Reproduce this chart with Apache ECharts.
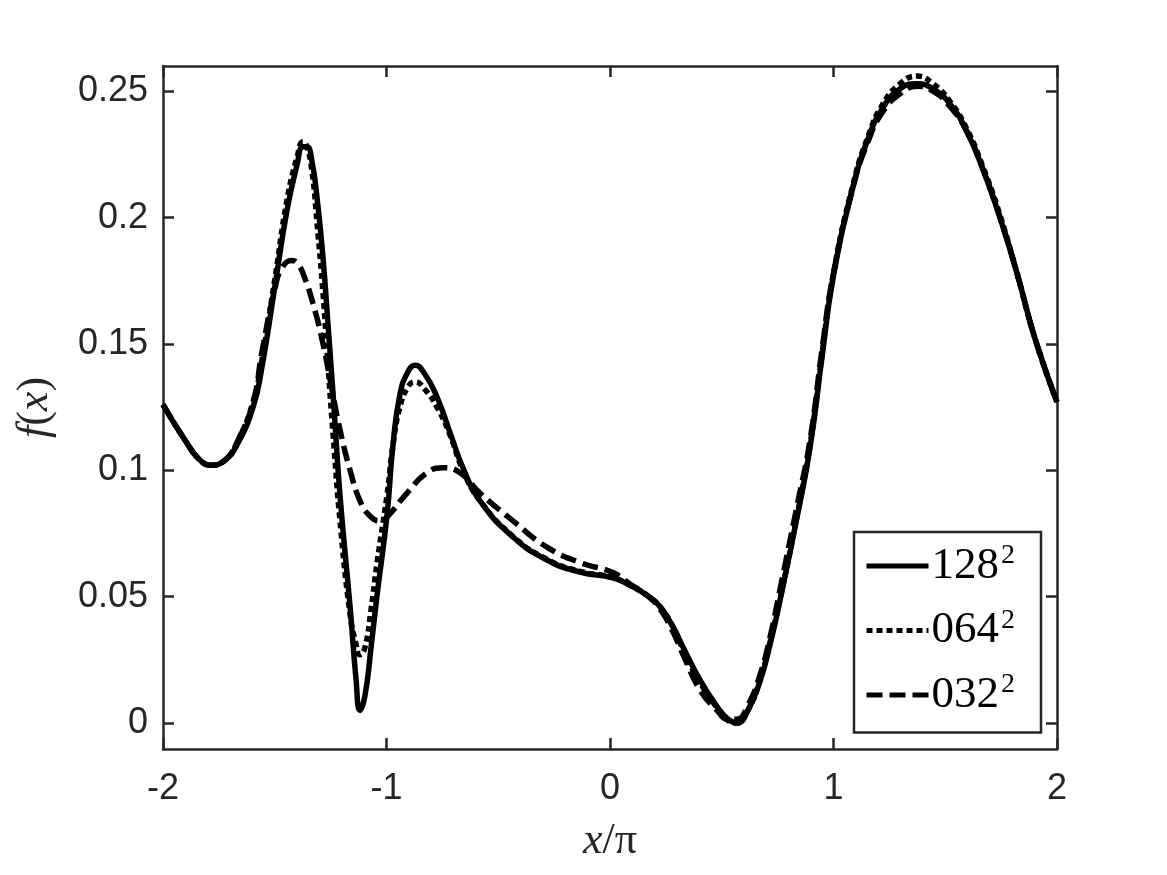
<!DOCTYPE html>
<html>
<head>
<meta charset="utf-8">
<script src="https://cdn.jsdelivr.net/npm/echarts@6/dist/echarts.min.js"></script>
<style>
  html, body { margin: 0; padding: 0; background: #fff; }
  #chart { width: 1167px; height: 875px; }
</style>
</head>
<body>
<div id="chart"></div>
<script>
// x / pi positions and f(x) values
const x128 = [-2.000, -1.902, -1.834, -1.781, -1.723, -1.669, -1.597, -1.557, -1.499, -1.445, -1.400, -1.374, -1.356, -1.333, -1.311, -1.284, -1.262, -1.239, -1.208, -1.163, -1.136, -1.119, -1.096, -1.069, -1.043, -0.998, -0.971, -0.940, -0.904, -0.872, -0.828, -0.774, -0.716, -0.658, -0.582, -0.434, -0.282, -0.134, 0.013, 0.089, 0.166, 0.224, 0.282, 0.327, 0.403, 0.479, 0.528, 0.568, 0.617, 0.671, 0.716, 0.761, 0.837, 0.895, 0.949, 0.998, 1.087, 1.154, 1.221, 1.298, 1.374, 1.445, 1.521, 1.597, 1.669, 1.745, 1.821, 1.902, 2.000]
const y128 = [0.126, 0.112, 0.104, 0.102, 0.104, 0.110, 0.125, 0.141, 0.173, 0.203, 0.221, 0.228, 0.228, 0.222, 0.208, 0.184, 0.158, 0.130, 0.090, 0.046, 0.017, 0.005, 0.011, 0.030, 0.050, 0.082, 0.110, 0.130, 0.139, 0.1416, 0.138, 0.129, 0.115, 0.101, 0.088, 0.0736, 0.0645, 0.0597, 0.0574, 0.0545, 0.0505, 0.046, 0.038, 0.030, 0.017, 0.0065, 0.0015, 0.000, 0.005, 0.0165, 0.031, 0.0487, 0.0815, 0.109, 0.145, 0.176, 0.212, 0.231, 0.2435, 0.251, 0.253, 0.251, 0.245, 0.234, 0.219, 0.200, 0.178, 0.152, 0.127]

const x064 = [-2.000, -1.902, -1.834, -1.781, -1.723, -1.669, -1.597, -1.557, -1.499, -1.445, -1.400, -1.374, -1.356, -1.333, -1.311, -1.284, -1.262, -1.239, -1.208, -1.163, -1.136, -1.119, -1.096, -1.069, -1.043, -0.998, -0.971, -0.940, -0.904, -0.872, -0.828, -0.774, -0.716, -0.658, -0.582, -0.434, -0.282, -0.134, 0.013, 0.089, 0.166, 0.224, 0.282, 0.327, 0.403, 0.479, 0.528, 0.568, 0.617, 0.671, 0.716, 0.761, 0.837, 0.895, 0.949, 0.998, 1.087, 1.154, 1.221, 1.298, 1.374, 1.445, 1.521, 1.597, 1.669, 1.745, 1.821, 1.902, 2.000]
const y064 = [0.126, 0.112, 0.104, 0.102, 0.104, 0.111, 0.127, 0.144, 0.176, 0.207, 0.224, 0.230, 0.228, 0.218, 0.198, 0.170, 0.142, 0.114, 0.080, 0.043, 0.031, 0.027, 0.030, 0.045, 0.063, 0.090, 0.110, 0.125, 0.133, 0.135, 0.132, 0.125, 0.114, 0.100, 0.088, 0.0738, 0.0648, 0.0600, 0.0576, 0.0545, 0.0505, 0.046, 0.038, 0.029, 0.016, 0.006, 0.001, 0.000, 0.005, 0.017, 0.032, 0.049, 0.082, 0.110, 0.146, 0.177, 0.213, 0.232, 0.245, 0.253, 0.256, 0.253, 0.246, 0.235, 0.220, 0.201, 0.178, 0.152, 0.127]

const x032 = [-2.000, -1.902, -1.834, -1.781, -1.723, -1.669, -1.597, -1.557, -1.499, -1.468, -1.423, -1.400, -1.374, -1.329, -1.284, -1.244, -1.208, -1.163, -1.119, -1.075, -1.030, -0.998, -0.908, -0.819, -0.747, -0.671, -0.582, -0.434, -0.282, -0.134, 0.013, 0.089, 0.166, 0.224, 0.282, 0.327, 0.403, 0.479, 0.528, 0.568, 0.617, 0.671, 0.716, 0.761, 0.837, 0.895, 0.949, 0.998, 1.087, 1.154, 1.221, 1.298, 1.374, 1.445, 1.521, 1.597, 1.669, 1.745, 1.821, 1.902, 2.000]
const y032 = [0.126, 0.112, 0.104, 0.102, 0.104, 0.111, 0.127, 0.147, 0.172, 0.180, 0.183, 0.182, 0.178, 0.166, 0.150, 0.132, 0.116, 0.100, 0.088, 0.082, 0.080, 0.0815, 0.091, 0.099, 0.101, 0.099, 0.091, 0.080, 0.0696, 0.0635, 0.0595, 0.055, 0.0505, 0.045, 0.036, 0.027, 0.013, 0.005, 0.0015, 0.0015, 0.007, 0.019, 0.034, 0.053, 0.086, 0.112, 0.148, 0.177, 0.212, 0.230, 0.242, 0.249, 0.252, 0.250, 0.244, 0.234, 0.219, 0.200, 0.178, 0.152, 0.127]

const yTicks = [0, 0.05, 0.1, 0.15, 0.2, 0.25]

const zip = (xs, ys) => xs.map((v, i) => [v, ys[i]])

const axisColor = '#262626'
const tickFont = 'Liberation Sans, Helvetica, Arial, sans-serif'
const mathFont = 'Liberation Serif, DejaVu Serif, serif'

const chart = echarts.init(document.getElementById('chart'))

function frameAxis(extra) {
  return Object.assign({
    type: 'value',
    axisLine: { show: true, onZero: false, lineStyle: { color: axisColor, width: 2.5 } },
    axisTick: { show: true, inside: true, length: 11, lineStyle: { color: axisColor, width: 2.5 } },
    splitLine: { show: false },
  }, extra)
}

const mathRich = {
  i: { fontFamily: mathFont, fontStyle: 'italic', fontSize: 44, color: axisColor },
  r: { fontFamily: mathFont, fontSize: 44, color: axisColor },
}

const option = {
  animation: false,
  backgroundColor: '#ffffff',
  grid: { left: 163, right: 110, top: 66, bottom: 126 },
  xAxis: [
    frameAxis({
      position: 'bottom', min: -2, max: 2, interval: 1,
      axisLabel: { color: axisColor, fontSize: 36, fontFamily: tickFont, margin: 22 },
      name: '{i|x}{r|/π}',
      nameLocation: 'middle',
      nameGap: 70,
      nameTextStyle: { rich: mathRich },
    }),
    frameAxis({ position: 'top', min: -2, max: 2, interval: 1, axisLabel: { show: false } }),
  ],
  yAxis: [
    frameAxis({
      position: 'left', min: -0.0103, max: 0.26,
      axisLabel: {
        color: axisColor, fontSize: 36, fontFamily: tickFont, margin: 15,
        customValues: yTicks,
        formatter: (v) => String(+v.toFixed(2)),
      },
      axisTick: { show: true, inside: true, length: 11, customValues: yTicks, lineStyle: { color: axisColor, width: 2.5 } },
      name: '{i|f}{r|(}{i|x}{r|)}',
      nameLocation: 'middle',
      nameGap: 106,
      nameRotate: 90,
      nameTextStyle: { rich: mathRich },
    }),
    frameAxis({
      position: 'right', min: -0.0103, max: 0.26,
      axisLabel: { show: false },
      axisTick: { show: true, inside: true, length: 11, customValues: yTicks, lineStyle: { color: axisColor, width: 2.5 } },
    }),
  ],
  legend: {
    orient: 'vertical',
    left: 854,
    top: 532,
    padding: [10, 26, 15, 10],
    itemGap: 18,
    itemWidth: 62,
    itemHeight: 14,
    backgroundColor: '#ffffff',
    borderColor: axisColor,
    borderWidth: 2.5,
    borderRadius: 0,
    selectedMode: false,
    itemStyle: { opacity: 0 },
    lineStyle: { width: 5 },
    data: ['128', '064', '032'],
    formatter: (name) => '{n|' + name + '}{s|2}',
    textStyle: {
      padding: [0, 0, 0, -2],
      rich: {
        n: { fontFamily: mathFont, fontSize: 45, color: '#000', lineHeight: 46 },
        s: { fontFamily: mathFont, fontSize: 28, color: '#000', verticalAlign: 'top', padding: [0, 0, 20, 2] },
      },
    },
  },
  series: [
    {
      name: '128', type: 'line', data: zip(x128, y128),
      symbol: 'none', smooth: 0.5,
      lineStyle: { color: '#000', width: 5.5, type: 'solid' },
      itemStyle: { color: '#000' },
    },
    {
      name: '064', type: 'line', data: zip(x064, y064),
      symbol: 'none', smooth: 0.5,
      lineStyle: { color: '#000', width: 5.5, type: [6, 4] },
      itemStyle: { color: '#000' },
    },
    {
      name: '032', type: 'line', data: zip(x032, y032),
      symbol: 'none', smooth: 0.5,
      lineStyle: { color: '#000', width: 5.5, type: [16, 7] },
      itemStyle: { color: '#000' },
    },
  ],
}

chart.setOption(option)
</script>
</body>
</html>
